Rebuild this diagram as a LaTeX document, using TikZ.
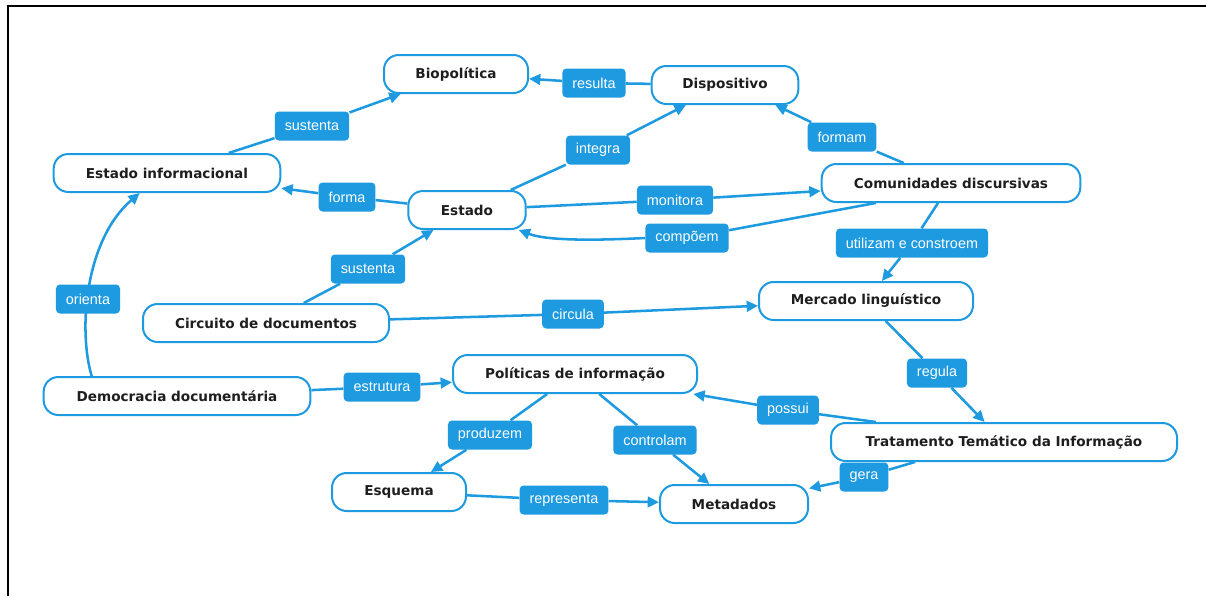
\documentclass[tikz,border=0pt]{standalone}
\usepackage{fontspec}
\setmainfont{Liberation Sans}
\newfontfamily\nodefont{DejaVu Sans}
\usetikzlibrary{arrows.meta}
\definecolor{cblue}{RGB}{30,154,224}
\definecolor{ctext}{RGB}{30,30,30}
\pgfdeclarelayer{back}
\pgfdeclarelayer{bg}
\pgfsetlayers{back,bg,main}
\tikzset{
 concept/.style={draw=cblue, line width=1.5pt, fill=white, rounded corners=11pt, minimum height=28.5pt, inner sep=0pt, font=\nodefont\bfseries\fontsize{10.2}{12}\selectfont, text=ctext},
 lab/.style={fill=cblue, text=white, rounded corners=3pt, minimum height=21.75pt, inner xsep=7.5pt, inner ysep=0pt, font=\fontsize{10.8}{13}\selectfont},
 conn/.style={draw=cblue, line width=1.9pt},
 arr/.style={conn, -{Triangle[length=8.5pt,width=8pt]}},
}
\begin{document}
\begin{tikzpicture}[x=0.75pt,y=-0.75pt]
\useasboundingbox (0,0) rectangle (1206,596);
\begin{pgfonlayer}{back}
\fill[white] (0,0) rectangle (1206,596);
\end{pgfonlayer}
\draw[line width=1.5pt] (7.5,596) -- (7.5,5.5) -- (1206,5.5);

% concepts
\node[concept, minimum width=108pt] (bio) at (456,74) {Biopolítica};
\node[concept, minimum width=110pt] (disp) at (725,85) {Dispositivo};
\node[concept, minimum width=170pt] (ei) at (167,173) {Estado informacional};
\node[concept, minimum width=88pt] (est) at (467,210) {Estado};
\node[concept, minimum width=194pt] (cd) at (951,183) {Comunidades discursivas};
\node[concept, minimum width=160.5pt] (merc) at (866,301) {Mercado linguístico};
\node[concept, minimum width=184.5pt] (circ) at (266,323) {Circuito de documentos};
\node[concept, minimum width=200pt] (dem) at (177,396) {Democracia documentária};
\node[concept, minimum width=183pt] (pol) at (575,374) {Políticas de informação};
\node[concept, minimum width=100.5pt] (esq) at (399,492) {Esquema};
\node[concept, minimum width=111pt] (meta) at (734,504) {Metadados};
\node[concept, minimum width=259.5pt] (tt) at (1004,442) {Tratamento Temático da Informação};

% labels
\node[lab] (lsust1) at (312,126) {sustenta};
\node[lab] (lres) at (594,83) {resulta};
\node[lab] (lint) at (598,150) {integra};
\node[lab] (lformam) at (842,137) {formam};
\node[lab] (lforma) at (347,197) {forma};
\node[lab] (lmon) at (675,200) {monitora};
\node[lab] (lcomp) at (687,238) {compõem};
\node[lab] (lutil) at (912,243) {utilizam e constroem};
\node[lab] (lsust2) at (368,269) {sustenta};
\node[lab] (lcirc) at (573,314) {circula};
\node[lab] (lori) at (88,299) {orienta};
\node[lab] (lestr) at (382,387) {estrutura};
\node[lab] (lprod) at (490,435) {produzem};
\node[lab] (lctrl) at (655,440) {controlam};
\node[lab] (lrep) at (564,500) {representa};
\node[lab] (lreg) at (937,373) {regula};
\node[lab] (lpos) at (788,410) {possui};
\node[lab] (lgera) at (864,477) {gera};

\begin{pgfonlayer}{bg}
\draw[conn] (ei) -- (lsust1); \draw[arr] (lsust1) -- (bio);
\draw[conn] (disp) -- (lres); \draw[arr] (lres) -- (bio);
\draw[conn] (est) -- (lint); \draw[arr] (lint) -- (disp);
\draw[conn] (cd) -- (lformam); \draw[arr] (lformam) -- ([xshift=-18pt]disp.south east);
\draw[conn] (est) -- (lforma); \draw[arr] (lforma) -- (ei);
\draw[conn] (est) -- (lmon); \draw[arr] (lmon) -- (cd);
\draw[conn] ([xshift=41.25pt]cd.south west) -- (lcomp);
\draw[arr] (lcomp.west) .. controls (585,241) and (545,240) .. ([xshift=-6pt]est.south east);
\draw[conn] (cd) -- (lutil); \draw[arr] (lutil) -- (merc);
\draw[conn] (circ) -- (lsust2); \draw[arr] (lsust2) -- (est);
\draw[conn] (circ) -- (lcirc); \draw[arr] (lcirc) -- (merc);
\draw[arr] ([xshift=36.75pt]dem.north west) .. controls (78,330) and (85,240) .. ([xshift=65.25pt]ei.south west);
\draw[conn] (dem) -- (lestr); \draw[arr] (lestr) -- (pol);
\draw[conn] (pol) -- (lprod); \draw[arr] (lprod) -- (esq);
\draw[conn] (pol) -- (lctrl); \draw[arr] (lctrl) -- (meta);
\draw[conn] (esq) -- (lrep); \draw[arr] (lrep) -- (meta);
\draw[conn] (merc) -- (lreg); \draw[arr] (lreg) -- (tt);
\draw[conn] ([xshift=34.5pt]tt.north west) -- (lpos); \draw[arr] (lpos) -- (pol);
\draw[conn] ([xshift=63.75pt]tt.south west) -- (lgera); \draw[arr] (lgera) -- (meta);
\end{pgfonlayer}
\end{tikzpicture}
\end{document}
